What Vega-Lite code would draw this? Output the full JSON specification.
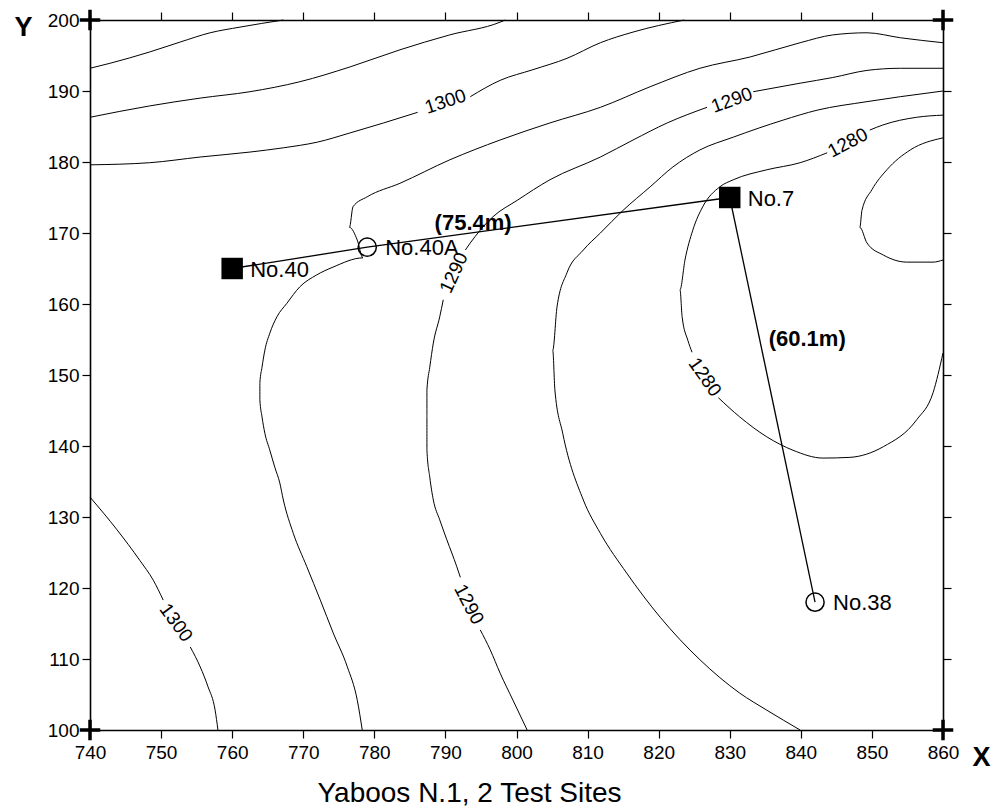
{
  "$schema": "https://vega.github.io/schema/vega-lite/v6.json",
  "width": 853,
  "height": 710,
  "autosize": {"type": "none"},
  "padding": {"left": 90, "top": 20, "right": 55, "bottom": 79},
  "background": "white",
  "title": {"text": "Yaboos N.1, 2 Test Sites", "orient": "bottom", "anchor": "middle", "frame": "group", "fontSize": 28, "fontWeight": "normal", "font": "Liberation Sans", "color": "black", "offset": 10, "dx": -47},
  "datasets": {
    "contours": [
      {"s":"c1310","i":0,"x":740,"y":193.2},{"s":"c1310","i":1,"x":742.8,"y":193.9},{"s":"c1310","i":2,"x":748.4,"y":195.5},{"s":"c1310","i":3,"x":752.7,"y":196.9},{"s":"c1310","i":4,"x":756.9,"y":198.2},{"s":"c1310","i":5,"x":761.1,"y":199.0},{"s":"c1310","i":6,"x":767.2,"y":200},
      {"s":"c1305","i":0,"x":740,"y":186.3},{"s":"c1305","i":1,"x":748.4,"y":187.9},{"s":"c1305","i":2,"x":755.5,"y":189.0},{"s":"c1305","i":3,"x":762.5,"y":189.9},{"s":"c1305","i":4,"x":769.5,"y":191.3},{"s":"c1305","i":5,"x":776.6,"y":193.4},{"s":"c1305","i":6,"x":783.6,"y":195.8},{"s":"c1305","i":7,"x":790.6,"y":197.9},{"s":"c1305","i":8,"x":797.7,"y":199.7},{"s":"c1305","i":9,"x":798.4,"y":200},
      {"s":"c1300a","i":0,"x":740,"y":179.6},{"s":"c1300a","i":1,"x":748.4,"y":179.9},{"s":"c1300a","i":2,"x":755.5,"y":180.7},{"s":"c1300a","i":3,"x":762.5,"y":181.4},{"s":"c1300a","i":4,"x":767.2,"y":182.0},{"s":"c1300a","i":5,"x":772.0,"y":182.8},{"s":"c1300a","i":6,"x":776.6,"y":184.1},{"s":"c1300a","i":7,"x":781.3,"y":185.5},{"s":"c1300a","i":8,"x":786.1,"y":187.0},
      {"s":"c1300b","i":0,"x":793.5,"y":189.2},{"s":"c1300b","i":1,"x":797.7,"y":191.5},{"s":"c1300b","i":2,"x":802.3,"y":193.0},{"s":"c1300b","i":3,"x":807.1,"y":194.6},{"s":"c1300b","i":4,"x":811.8,"y":196.8},{"s":"c1300b","i":5,"x":816.4,"y":198.3},{"s":"c1300b","i":6,"x":823.6,"y":200},
      {"s":"c1295","i":0,"x":860.0,"y":196.8},{"s":"c1295","i":1,"x":854.0,"y":197.5},{"s":"c1295","i":2,"x":849.3,"y":198.2},{"s":"c1295","i":3,"x":844.5,"y":197.9},{"s":"c1295","i":4,"x":839.9,"y":196.8},{"s":"c1295","i":5,"x":832.9,"y":194.8},{"s":"c1295","i":6,"x":825.8,"y":193.2},{"s":"c1295","i":7,"x":818.8,"y":190.6},{"s":"c1295","i":8,"x":811.8,"y":187.7},{"s":"c1295","i":9,"x":804.7,"y":185.5},{"s":"c1295","i":10,"x":797.7,"y":183.1},{"s":"c1295","i":11,"x":790.6,"y":180.3},{"s":"c1295","i":12,"x":783.6,"y":177.0},{"s":"c1295","i":13,"x":779.0,"y":175.1},{"s":"c1295","i":14,"x":777.0,"y":173.7},{"s":"c1295","i":15,"x":776.5,"y":170.8},{"s":"c1295","i":16,"x":777.6,"y":169.0},{"s":"c1295","i":17,"x":778.4,"y":166.5},{"s":"c1295","i":18,"x":774.2,"y":165.2},{"s":"c1295","i":19,"x":771.9,"y":164.1},{"s":"c1295","i":20,"x":769.5,"y":162.4},{"s":"c1295","i":21,"x":767.7,"y":160.1},{"s":"c1295","i":22,"x":766.3,"y":158.2},{"s":"c1295","i":23,"x":765.3,"y":155.9},{"s":"c1295","i":24,"x":764.6,"y":153.5},{"s":"c1295","i":25,"x":764.2,"y":151.1},{"s":"c1295","i":26,"x":763.9,"y":148.9},{"s":"c1295","i":27,"x":763.9,"y":146.5},{"s":"c1295","i":28,"x":764.2,"y":144.1},{"s":"c1295","i":29,"x":764.6,"y":141.8},{"s":"c1295","i":30,"x":765.3,"y":139.4},{"s":"c1295","i":31,"x":766.0,"y":137.0},{"s":"c1295","i":32,"x":766.7,"y":134.8},{"s":"c1295","i":33,"x":767.2,"y":132.4},{"s":"c1295","i":34,"x":768.6,"y":127.7},{"s":"c1295","i":35,"x":770.5,"y":123.0},{"s":"c1295","i":36,"x":772.4,"y":118.3},{"s":"c1295","i":37,"x":774.2,"y":113.7},{"s":"c1295","i":38,"x":776.2,"y":108.9},{"s":"c1295","i":39,"x":777.6,"y":104.2},{"s":"c1295","i":40,"x":778.3,"y":100.0},
      {"s":"c1290a","i":0,"x":860.0,"y":193.2},{"s":"c1290a","i":1,"x":854.0,"y":193.2},{"s":"c1290a","i":2,"x":849.3,"y":192.9},{"s":"c1290a","i":3,"x":844.5,"y":191.9},{"s":"c1290a","i":4,"x":839.9,"y":191.1},{"s":"c1290a","i":5,"x":833.3,"y":189.9},
      {"s":"c1290b","i":0,"x":826.8,"y":187.7},{"s":"c1290b","i":1,"x":821.2,"y":185.5},{"s":"c1290b","i":2,"x":816.4,"y":183.1},{"s":"c1290b","i":3,"x":811.8,"y":180.7},{"s":"c1290b","i":4,"x":804.7,"y":177.5},{"s":"c1290b","i":5,"x":800.1,"y":174.6},{"s":"c1290b","i":6,"x":796.7,"y":172.3},{"s":"c1290b","i":7,"x":794.9,"y":170.4},{"s":"c1290b","i":8,"x":793.5,"y":168.6},{"s":"c1290b","i":9,"x":792.8,"y":167.6},
      {"s":"c1290c","i":0,"x":789.7,"y":160.6},{"s":"c1290c","i":1,"x":789.2,"y":158.2},{"s":"c1290c","i":2,"x":788.3,"y":154.5},{"s":"c1290c","i":3,"x":787.8,"y":151.1},{"s":"c1290c","i":4,"x":787.4,"y":147.9},{"s":"c1290c","i":5,"x":787.4,"y":144.1},{"s":"c1290c","i":6,"x":787.4,"y":139.4},{"s":"c1290c","i":7,"x":787.8,"y":135.6},{"s":"c1290c","i":8,"x":788.3,"y":132.4},{"s":"c1290c","i":9,"x":789.2,"y":129.6},{"s":"c1290c","i":10,"x":790.2,"y":126.8},{"s":"c1290c","i":11,"x":791.6,"y":123.0},{"s":"c1290c","i":12,"x":792.1,"y":121.5},
      {"s":"c1290d","i":0,"x":794.9,"y":114.1},{"s":"c1290d","i":1,"x":796.3,"y":111.3},{"s":"c1290d","i":2,"x":797.7,"y":108.0},{"s":"c1290d","i":3,"x":799.5,"y":104.2},{"s":"c1290d","i":4,"x":801.5,"y":100.0},
      {"s":"c1285","i":0,"x":860.0,"y":190.0},{"s":"c1285","i":1,"x":854.0,"y":189.2},{"s":"c1285","i":2,"x":849.3,"y":188.5},{"s":"c1285","i":3,"x":842.3,"y":187.3},{"s":"c1285","i":4,"x":837.5,"y":185.9},{"s":"c1285","i":5,"x":830.5,"y":183.5},{"s":"c1285","i":6,"x":825.8,"y":181.7},{"s":"c1285","i":7,"x":822.0,"y":179.3},{"s":"c1285","i":8,"x":818.8,"y":176.5},{"s":"c1285","i":9,"x":815.0,"y":173.2},{"s":"c1285","i":10,"x":811.8,"y":170.0},{"s":"c1285","i":11,"x":809.4,"y":167.6},{"s":"c1285","i":12,"x":807.1,"y":164.4},{"s":"c1285","i":13,"x":805.7,"y":159.6},{"s":"c1285","i":14,"x":805.1,"y":153.5},{"s":"c1285","i":15,"x":805.4,"y":147.9},{"s":"c1285","i":16,"x":806.5,"y":141.8},{"s":"c1285","i":17,"x":809.4,"y":132.4},{"s":"c1285","i":18,"x":811.8,"y":127.7},{"s":"c1285","i":19,"x":815.5,"y":122.1},{"s":"c1285","i":20,"x":820.2,"y":115.9},{"s":"c1285","i":21,"x":825.8,"y":109.9},{"s":"c1285","i":22,"x":831.4,"y":105.2},{"s":"c1285","i":23,"x":835.2,"y":102.8},{"s":"c1285","i":24,"x":839.9,"y":100.0},
      {"s":"c1280a","i":0,"x":860.0,"y":186.6},{"s":"c1280a","i":1,"x":856.3,"y":186.3},{"s":"c1280a","i":2,"x":851.5,"y":185.2},{"s":"c1280a","i":3,"x":849.7,"y":184.5},
      {"s":"c1280b","i":0,"x":843.7,"y":181.3},{"s":"c1280b","i":1,"x":839.9,"y":179.9},{"s":"c1280b","i":2,"x":835.2,"y":178.9},{"s":"c1280b","i":3,"x":830.5,"y":177.5},{"s":"c1280b","i":4,"x":828.6,"y":176.5},{"s":"c1280b","i":5,"x":826.2,"y":173.7},{"s":"c1280b","i":6,"x":824.8,"y":170.4},{"s":"c1280b","i":7,"x":823.7,"y":166.2},{"s":"c1280b","i":8,"x":823.0,"y":162.0},{"s":"c1280b","i":9,"x":823.3,"y":158.2},{"s":"c1280b","i":10,"x":824.1,"y":154.9},{"s":"c1280b","i":11,"x":824.7,"y":153.2},
      {"s":"c1280c","i":0,"x":828.4,"y":146.8},{"s":"c1280c","i":1,"x":831.4,"y":144.1},{"s":"c1280c","i":2,"x":835.2,"y":141.3},{"s":"c1280c","i":3,"x":838.9,"y":139.4},{"s":"c1280c","i":4,"x":843.1,"y":138.3},{"s":"c1280c","i":5,"x":846.9,"y":138.4},{"s":"c1280c","i":6,"x":851.6,"y":139.9},{"s":"c1280c","i":7,"x":856.3,"y":143.7},{"s":"c1280c","i":8,"x":858.6,"y":147.5},{"s":"c1280c","i":9,"x":860.0,"y":153.1},
      {"s":"c1275","i":0,"x":860.0,"y":183.4},{"s":"c1275","i":1,"x":855.4,"y":181.7},{"s":"c1275","i":2,"x":852.1,"y":178.9},{"s":"c1275","i":3,"x":850.0,"y":176.1},{"s":"c1275","i":4,"x":848.6,"y":173.2},{"s":"c1275","i":5,"x":848.3,"y":170.8},{"s":"c1275","i":6,"x":849.3,"y":168.6},{"s":"c1275","i":7,"x":851.6,"y":166.9},{"s":"c1275","i":8,"x":854.9,"y":165.9},{"s":"c1275","i":9,"x":858.6,"y":165.9},{"s":"c1275","i":10,"x":860.0,"y":166.2},
      {"s":"c1300c","i":0,"x":740,"y":132.8},{"s":"c1300c","i":1,"x":743.8,"y":128.2},{"s":"c1300c","i":2,"x":747.0,"y":123.9},{"s":"c1300c","i":3,"x":748.9,"y":121.1},{"s":"c1300c","i":4,"x":750.3,"y":118.3},
      {"s":"c1300d","i":0,"x":754.1,"y":111.7},{"s":"c1300d","i":1,"x":755.5,"y":108.9},{"s":"c1300d","i":2,"x":756.6,"y":106.1},{"s":"c1300d","i":3,"x":757.6,"y":102.8},{"s":"c1300d","i":4,"x":758.0,"y":100.0}
    ],
    "links": [
      {"route":"A","i":0,"x":760,"y":165},{"route":"A","i":1,"x":779,"y":168},{"route":"A","i":2,"x":830,"y":175},
      {"route":"B","i":0,"x":830,"y":175},{"route":"B","i":1,"x":842,"y":118}
    ],
    "sites": [
      {"name":"No.40","kind":"well","x":760,"y":165},
      {"name":"No.40A","kind":"test","x":779,"y":168},
      {"name":"No.7","kind":"well","x":830,"y":175},
      {"name":"No.38","kind":"test","x":842,"y":118}
    ],
    "distances": [
      {"label":"(75.4m)","x":793.9,"y":171.4},
      {"label":"(60.1m)","x":840.9,"y":155.1}
    ],
    "contourLabels": [
      {"id":"t1300","label":"1300","x":790.0,"y":188.5},
      {"id":"t1290","label":"1290","x":830.3,"y":188.7},
      {"id":"r1280","label":"1280","x":846.6,"y":182.7},
      {"id":"m1290","label":"1290","x":791.2,"y":164.4},
      {"id":"b1290","label":"1290","x":793.3,"y":117.7},
      {"id":"b1300","label":"1300","x":752.1,"y":115.1},
      {"id":"l1280","label":"1280","x":826.5,"y":149.7}
    ],
    "corners": [
      {"x":740,"y":100},{"x":740,"y":200},{"x":860,"y":100},{"x":860,"y":200}
    ]
  },
  "resolve": {"axis": {"x": "independent", "y": "independent"}},
  "layer": [
    {
      "data": {"name": "contours"},
      "mark": {"type": "line", "color": "black", "strokeWidth": 1, "interpolate": "monotone"},
      "encoding": {
        "x": {"field": "x", "type": "quantitative", "scale": {"domain": [740, 860], "nice": false, "zero": false},
          "axis": {"orient": "bottom", "values": [740,750,760,770,780,790,800,810,820,830,840,850,860], "grid": false, "tickSize": 8, "tickWidth": 1.2, "tickColor": "black", "domainColor": "black", "domainWidth": 1.6, "labelFontSize": 19, "labelFont": "Liberation Sans", "labelColor": "black", "labelPadding": 5, "labelFlush": false, "labelOverlap": false,
            "title": "X", "titleFont": "Liberation Sans", "titleFontSize": 27, "titleFontWeight": "bold", "titleColor": "black", "titleAngle": 0, "titleX": 891, "titleY": 27, "titleAlign": "center", "titleBaseline": "middle"}},
        "y": {"field": "y", "type": "quantitative", "scale": {"domain": [100, 200], "nice": false, "zero": false},
          "axis": {"orient": "left", "values": [100,110,120,130,140,150,160,170,180,190,200], "grid": false, "tickSize": 8, "tickWidth": 1.2, "tickColor": "black", "domainColor": "black", "domainWidth": 1.6, "labelFontSize": 19, "labelFont": "Liberation Sans", "labelColor": "black", "labelPadding": 3, "labelFlush": false, "labelOverlap": false,
            "title": "Y", "titleFont": "Liberation Sans", "titleFontSize": 27, "titleFontWeight": "bold", "titleColor": "black", "titleAngle": 0, "titleX": -67, "titleY": 7, "titleAlign": "center", "titleBaseline": "middle"}},
        "detail": {"field": "s", "type": "nominal"},
        "order": {"field": "i", "type": "quantitative"}
      }
    },
    {
      "data": {"name": "links"},
      "mark": {"type": "line", "color": "black", "strokeWidth": 1.3},
      "encoding": {
        "x": {"field": "x", "type": "quantitative", "axis": {"orient": "top", "values": [740,750,760,770,780,790,800,810,820,830,840,850,860], "labels": false, "title": null, "grid": false, "tickSize": 8, "tickWidth": 1.2, "tickColor": "black", "domainColor": "black", "domainWidth": 1.6}},
        "y": {"field": "y", "type": "quantitative", "axis": {"orient": "right", "values": [100,110,120,130,140,150,160,170,180,190,200], "labels": false, "title": null, "grid": false, "tickSize": 8, "tickWidth": 1.2, "tickColor": "black", "domainColor": "black", "domainWidth": 1.6}},
        "detail": {"field": "route", "type": "nominal"},
        "order": {"field": "i", "type": "quantitative"}
      }
    },
    {
      "data": {"name": "sites"},
      "transform": [{"filter": "datum.kind === 'well'"}],
      "mark": {"type": "square", "color": "black", "size": 460, "opacity": 1},
      "encoding": {
        "x": {"field": "x", "type": "quantitative", "axis": null},
        "y": {"field": "y", "type": "quantitative", "axis": null}
      }
    },
    {
      "data": {"name": "sites"},
      "transform": [{"filter": "datum.kind === 'test'"}],
      "mark": {"type": "point", "shape": "circle", "filled": false, "stroke": "black", "strokeWidth": 1.5, "size": 330, "opacity": 1},
      "encoding": {
        "x": {"field": "x", "type": "quantitative", "axis": null},
        "y": {"field": "y", "type": "quantitative", "axis": null}
      }
    },
    {
      "data": {"name": "sites"},
      "mark": {"type": "text", "align": "left", "baseline": "middle", "dx": 18, "dy": 1, "fontSize": 22, "font": "Liberation Sans", "color": "black"},
      "encoding": {
        "x": {"field": "x", "type": "quantitative", "axis": null},
        "y": {"field": "y", "type": "quantitative", "axis": null},
        "text": {"field": "name"}
      }
    },
    {
      "data": {"name": "distances"},
      "mark": {"type": "text", "align": "center", "baseline": "middle", "fontSize": 22, "fontWeight": "bold", "font": "Liberation Sans", "color": "black"},
      "encoding": {
        "x": {"field": "x", "type": "quantitative", "axis": null},
        "y": {"field": "y", "type": "quantitative", "axis": null},
        "text": {"field": "label"}
      }
    },
    {
      "data": {"name": "contourLabels"},
      "transform": [{"filter": "datum.id === 't1300'"}],
      "mark": {"type": "text", "align": "center", "baseline": "middle", "fontSize": 19, "font": "Liberation Sans", "color": "black", "angle": -18},
      "encoding": {"x": {"field": "x", "type": "quantitative", "axis": null}, "y": {"field": "y", "type": "quantitative", "axis": null}, "text": {"field": "label"}}
    },
    {
      "data": {"name": "contourLabels"},
      "transform": [{"filter": "datum.id === 't1290'"}],
      "mark": {"type": "text", "align": "center", "baseline": "middle", "fontSize": 19, "font": "Liberation Sans", "color": "black", "angle": -20},
      "encoding": {"x": {"field": "x", "type": "quantitative", "axis": null}, "y": {"field": "y", "type": "quantitative", "axis": null}, "text": {"field": "label"}}
    },
    {
      "data": {"name": "contourLabels"},
      "transform": [{"filter": "datum.id === 'r1280'"}],
      "mark": {"type": "text", "align": "center", "baseline": "middle", "fontSize": 19, "font": "Liberation Sans", "color": "black", "angle": -28},
      "encoding": {"x": {"field": "x", "type": "quantitative", "axis": null}, "y": {"field": "y", "type": "quantitative", "axis": null}, "text": {"field": "label"}}
    },
    {
      "data": {"name": "contourLabels"},
      "transform": [{"filter": "datum.id === 'm1290'"}],
      "mark": {"type": "text", "align": "center", "baseline": "middle", "fontSize": 19, "font": "Liberation Sans", "color": "black", "angle": -65},
      "encoding": {"x": {"field": "x", "type": "quantitative", "axis": null}, "y": {"field": "y", "type": "quantitative", "axis": null}, "text": {"field": "label"}}
    },
    {
      "data": {"name": "contourLabels"},
      "transform": [{"filter": "datum.id === 'b1290'"}],
      "mark": {"type": "text", "align": "center", "baseline": "middle", "fontSize": 19, "font": "Liberation Sans", "color": "black", "angle": 62},
      "encoding": {"x": {"field": "x", "type": "quantitative", "axis": null}, "y": {"field": "y", "type": "quantitative", "axis": null}, "text": {"field": "label"}}
    },
    {
      "data": {"name": "contourLabels"},
      "transform": [{"filter": "datum.id === 'b1300'"}],
      "mark": {"type": "text", "align": "center", "baseline": "middle", "fontSize": 19, "font": "Liberation Sans", "color": "black", "angle": 54},
      "encoding": {"x": {"field": "x", "type": "quantitative", "axis": null}, "y": {"field": "y", "type": "quantitative", "axis": null}, "text": {"field": "label"}}
    },
    {
      "data": {"name": "contourLabels"},
      "transform": [{"filter": "datum.id === 'l1280'"}],
      "mark": {"type": "text", "align": "center", "baseline": "middle", "fontSize": 19, "font": "Liberation Sans", "color": "black", "angle": 55},
      "encoding": {"x": {"field": "x", "type": "quantitative", "axis": null}, "y": {"field": "y", "type": "quantitative", "axis": null}, "text": {"field": "label"}}
    },
    {
      "data": {"name": "corners"},
      "mark": {"type": "point", "shape": "M-1,0H1M0,-1V1", "filled": false, "stroke": "black", "strokeWidth": 3.5, "size": 420, "opacity": 1},
      "encoding": {
        "x": {"field": "x", "type": "quantitative", "axis": null},
        "y": {"field": "y", "type": "quantitative", "axis": null}
      }
    }
  ],
  "config": {
    "view": {"stroke": null},
    "font": "Liberation Sans"
  }
}
